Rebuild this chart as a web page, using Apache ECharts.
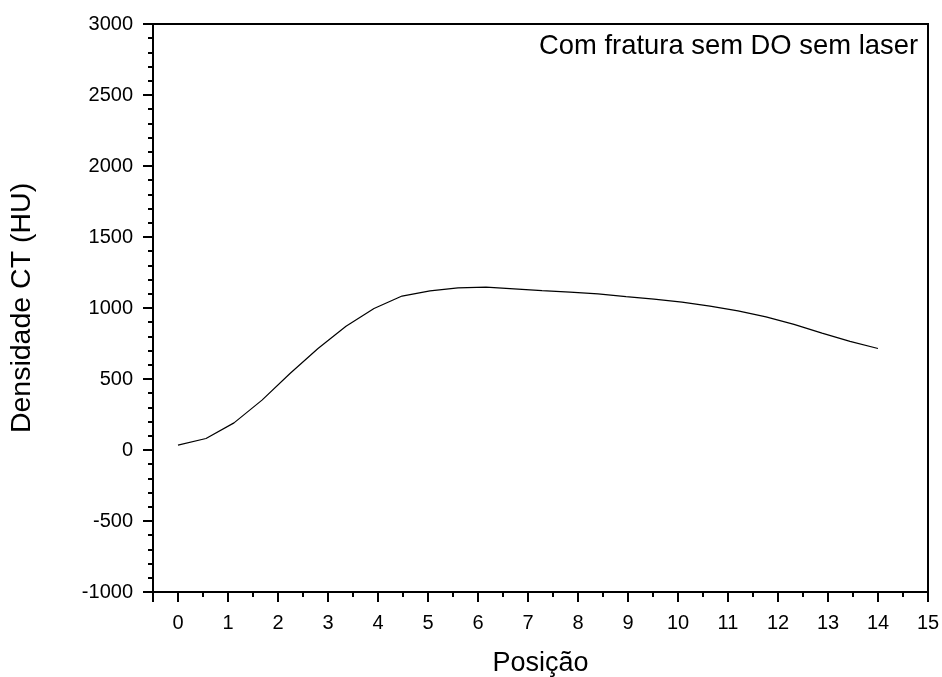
<!DOCTYPE html>
<html>
<head>
<meta charset="utf-8">
<script src="https://cdn.jsdelivr.net/npm/echarts@6/dist/echarts.min.js"></script>
<style>
  html, body { margin: 0; padding: 0; background: #fff; }
  #main { width: 942px; height: 677px; }
</style>
</head>
<body>
<div id="main"></div>
<script>
// posição (x) e densidade CT (HU)
const posicao = [0, 0.56, 1.12, 1.68, 2.24, 2.8, 3.36, 3.92, 4.48, 5.04, 5.6, 6.16, 6.72,
  7.28, 7.84, 8.4, 8.96, 9.52, 10.08, 10.64, 11.2, 11.76, 12.32, 12.88, 13.44, 14]
const densidade = [34, 81, 191, 351, 539, 715, 872, 997, 1084, 1121, 1142, 1147, 1135,
  1123, 1112, 1100, 1080, 1063, 1042, 1013, 980, 938, 885, 823, 765, 715]
const legenda = 'Com fratura sem DO sem laser'

const font = 'Liberation Sans, Arial, sans-serif'
const chart = echarts.init(document.getElementById('main'))

chart.setOption({
  animation: false,
  grid: {
    left: 153, right: 14, top: 24, bottom: 85,
    outerBoundsMode: 'none',
    show: true, borderColor: '#000', borderWidth: 2
  },
  xAxis: {
    type: 'value',
    min: -0.5,
    max: 15,
    splitNumber: 15,
    name: 'Posição',
    nameLocation: 'middle',
    nameGap: 58,
    nameTextStyle: { color: '#000', fontSize: 27, fontFamily: font },
    axisLine: { onZero: false, lineStyle: { color: '#000', width: 2 } },
    axisTick: { length: 10, lineStyle: { color: '#000', width: 2 } },
    minorTick: { show: true, splitNumber: 2, length: 5, lineStyle: { color: '#000', width: 2 } },
    splitLine: { show: false },
    axisLabel: {
      color: '#000', fontSize: 20, fontFamily: font, margin: 21,
      formatter: v => (Number.isInteger(v) ? String(v) : '')
    }
  },
  yAxis: {
    type: 'value',
    min: -1000,
    max: 3000,
    interval: 500,
    name: 'Densidade CT (HU)',
    nameLocation: 'middle',
    nameGap: 116,
    nameTextStyle: { color: '#000', fontSize: 28.5, fontFamily: font },
    axisLine: { show: true, onZero: false, lineStyle: { color: '#000', width: 2 } },
    axisTick: { show: true, length: 10, lineStyle: { color: '#000', width: 2 } },
    minorTick: { show: true, splitNumber: 5, length: 5, lineStyle: { color: '#000', width: 2 } },
    splitLine: { show: false },
    axisLabel: { color: '#000', fontSize: 20, fontFamily: font, margin: 20, formatter: v => String(v) }
  },
  graphic: [{
    type: 'text',
    right: 24,
    top: 33,
    style: { text: legenda, fill: '#000', fontSize: 27.4, fontFamily: font }
  }],
  series: [{
    type: 'line',
    data: posicao.map((x, i) => [x, densidade[i]]),
    showSymbol: false,
    lineStyle: { color: '#000', width: 1.2 }
  }]
})
</script>
</body>
</html>
